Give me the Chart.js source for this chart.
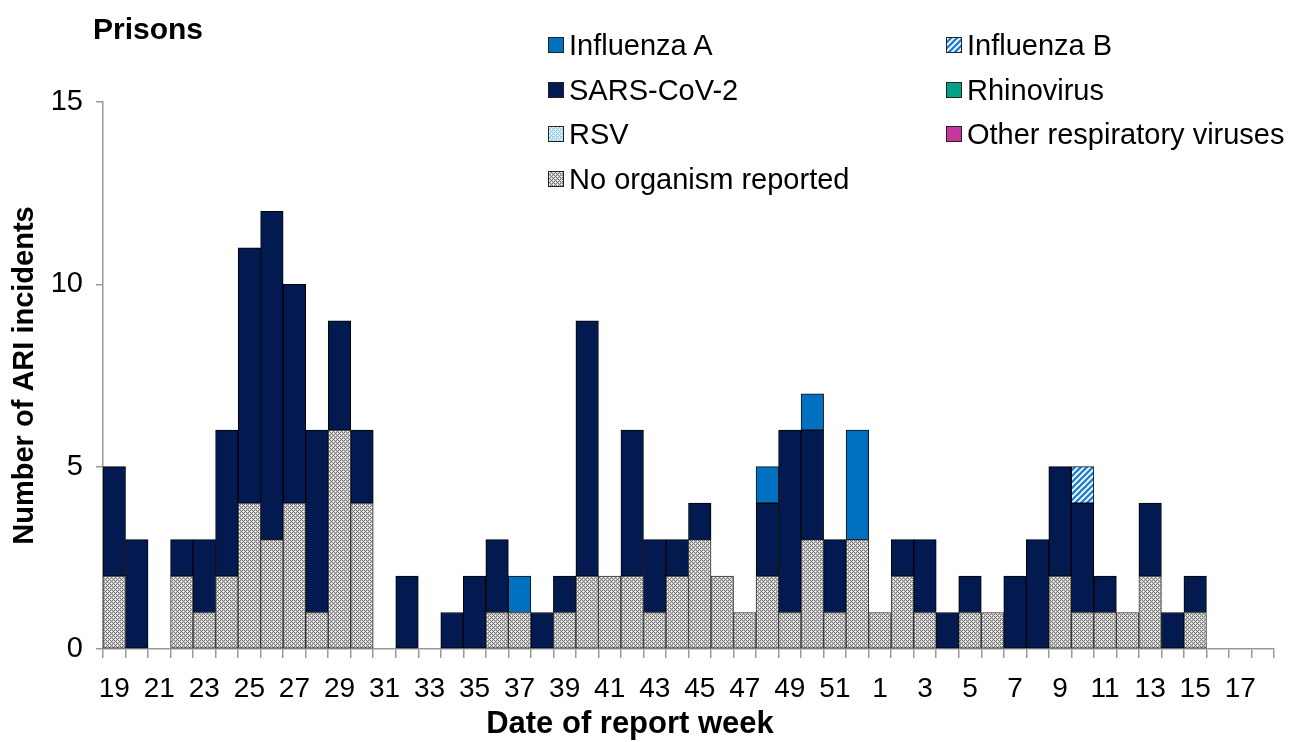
<!DOCTYPE html>
<html>
<head>
<meta charset="utf-8">
<script src="https://cdn.jsdelivr.net/npm/chart.js@4/dist/chart.umd.min.js"></script>
<style>
  html, body { margin: 0; padding: 0; background: #fff; }
  #wrap { position: relative; width: 1292px; height: 742px; font-family: "Liberation Sans", Arial, sans-serif; color: #000; }
  #c { position: absolute; left: 0; top: 0; }
  .txt { position: absolute; white-space: nowrap; }
  .leg { position: absolute; height: 30px; line-height: 30px; font-size: 29px; white-space: nowrap; }
  .leg canvas { position: absolute; left: -21px; top: 7px; }
</style>
</head>
<body>
<div id="wrap">
  <canvas id="c" width="1292" height="742"></canvas>
  <div class="txt" id="title" style="left:93px; top:12px; font-size:30px; font-weight:bold;">Prisons</div>
  <div class="txt" id="xtitle" style="left:0; width:1260px; text-align:center; top:705px; font-size:31px; font-weight:bold;">Date of report week</div>
  <div id="legend"></div>
</div>
<script>
// ---- Data ----
const weeks = ['19','20','21','22','23','24','25','26','27','28','29','30','31','32','33','34','35','36','37','38','39','40','41','42','43','44','45','46','47','48','49','50','51','52','1','2','3','4','5','6','7','8','9','10','11','12','13','14','15','16','17','18'];
const noOrganism = [2,0,0,2,1,2,4,3,4,1,6,4,0,0,0,0,0,1,1,0,1,2,2,2,1,2,3,2,1,2,1,3,1,3,1,2,1,0,1,1,0,0,2,1,1,1,2,0,1,0,0,0];
const sarsCoV2   = [3,3,0,1,2,4,7,9,6,5,3,2,0,2,0,1,2,2,0,1,1,7,0,4,2,1,1,0,0,2,5,3,2,0,0,1,2,1,1,0,2,3,3,3,1,0,2,1,1,0,0,0];
const influenzaA = [0,0,0,0,0,0,0,0,0,0,0,0,0,0,0,0,0,0,1,0,0,0,0,0,0,0,0,0,0,1,0,1,0,3,0,0,0,0,0,0,0,0,0,0,0,0,0,0,0,0,0,0];
const influenzaB = [0,0,0,0,0,0,0,0,0,0,0,0,0,0,0,0,0,0,0,0,0,0,0,0,0,0,0,0,0,0,0,0,0,0,0,0,0,0,0,0,0,0,0,1,0,0,0,0,0,0,0,0];
const rhinovirus = new Array(52).fill(0);
const rsv        = new Array(52).fill(0);
const otherResp  = new Array(52).fill(0);
const yTicks = [0,5,10,15];

// ---- Patterns ----
function tile(w, h, draw) {
  const c = document.createElement('canvas');
  c.width = w; c.height = h;
  const g = c.getContext('2d');
  draw(g, w, h);
  return c;
}
function dotTile(dark, light) {
  return tile(4, 4, (g) => {
    g.fillStyle = '#ffffff'; g.fillRect(0, 0, 4, 4);
    for (let x = 0; x < 4; x++) for (let y = 0; y < 4; y++) {
      if ((x + y) % 4 === 0 || ((x - y + 4) % 4) === 2) { g.fillStyle = dark; g.fillRect(x, y, 1, 1); }
      else if ((x + y) % 2 === 1) { g.fillStyle = light; g.fillRect(x, y, 1, 1); }
    }
  });
}
const noOrgTile = dotTile('#7a7a7a', '#cfcfcf');
const rsvTile = dotTile('#8fcbea', '#cfe8f6');
const fluBTile = tile(6, 6, (g, w, h) => {
  g.fillStyle = '#ffffff'; g.fillRect(0, 0, w, h);
  g.strokeStyle = '#1a7fd4'; g.lineWidth = 2.3;
  for (let k = -1; k <= 1; k++) {
    g.beginPath(); g.moveTo(k * w - 1, h + 1); g.lineTo(k * w + w + 1, -1); g.stroke();
  }
});
const ctx = document.getElementById('c').getContext('2d');
const pNoOrg = ctx.createPattern(noOrgTile, 'repeat');
const pRsv = ctx.createPattern(rsvTile, 'repeat');
const pFluB = ctx.createPattern(fluBTile, 'repeat');

const nz = (arr) => arr.map(v => v === 0 ? null : v);

const series = [
  { label: 'No organism reported', data: noOrganism, bg: pNoOrg, border: '#333', swatch: noOrgTile },
  { label: 'RSV', data: rsv, bg: pRsv, border: '#222', swatch: rsvTile },
  { label: 'Other respiratory viruses', data: otherResp, bg: '#c7359f', border: '#111', swatch: '#c7359f' },
  { label: 'Rhinovirus', data: rhinovirus, bg: '#00a184', border: '#111', swatch: '#00a184' },
  { label: 'SARS-CoV-2', data: sarsCoV2, bg: '#021a4f', border: '#000', swatch: '#021a4f' },
  { label: 'Influenza B', data: influenzaB, bg: pFluB, border: '#111', swatch: fluBTile },
  { label: 'Influenza A', data: influenzaA, bg: '#0070c0', border: '#111', swatch: '#0070c0' }
];

const FONT = '"Liberation Sans", Arial, sans-serif';

new Chart(ctx, {
  type: 'bar',
  data: {
    labels: weeks,
    datasets: series.map(s => ({
      label: s.label,
      data: nz(s.data),
      backgroundColor: s.bg,
      borderColor: s.border,
      borderWidth: 1,
      borderSkipped: false,
      barPercentage: 1.0,
      categoryPercentage: 1.0
    }))
  },
  options: {
    responsive: false,
    animation: false,
    devicePixelRatio: 1,
    layout: { padding: { top: 102, right: 18, left: 0, bottom: 0 } },
    plugins: { legend: { display: false }, tooltip: { enabled: false }, title: { display: false } },
    scales: {
      x: {
        stacked: true,
        offset: true,
        grid: { display: true, offset: true, drawOnChartArea: false, drawTicks: true, tickLength: 9, color: '#999', lineWidth: 1.5 },
        border: { display: true, color: '#999', width: 1.5 },
        ticks: {
          autoSkip: false, maxRotation: 0, minRotation: 0, padding: 14,
          color: '#000', font: { family: FONT, size: 28 },
          callback: function (v, i) { return i % 2 === 0 ? weeks[i] : ''; }
        },
        afterFit: (s) => { s.height = 93; }
      },
      y: {
        stacked: true,
        min: yTicks[0], max: yTicks[yTicks.length - 1],
        afterBuildTicks: (s) => { s.ticks = yTicks.map(v => ({ value: v })); },
        grid: { display: true, drawOnChartArea: false, drawTicks: true, tickLength: 7, color: '#999', lineWidth: 1.5 },
        border: { display: true, color: '#999', width: 1.5 },
        ticks: { padding: 13, color: '#000', font: { family: FONT, size: 29 } },
        title: { display: true, text: 'Number of ARI incidents', color: '#000', padding: { top: 8, bottom: 0 },
                 font: { family: FONT, size: 29, weight: 'bold' } },
        afterFit: (s) => { s.width = 103; }
      }
    }
  }
});

// ---- Legend (HTML, two columns, row-major) ----
const legendOrder = ['Influenza A', 'Influenza B', 'SARS-CoV-2', 'Rhinovirus', 'RSV', 'Other respiratory viruses', 'No organism reported'];
const legEl = document.getElementById('legend');
const colX = [569, 967];
const rowY = [45, 90, 134, 179];
legendOrder.forEach((name, idx) => {
  const s = series.find(z => z.label === name);
  const d = document.createElement('div');
  d.className = 'leg';
  d.style.left = colX[idx % 2] + 'px';
  d.style.top = (rowY[Math.floor(idx / 2)] - 15) + 'px';
  const sw = document.createElement('canvas');
  sw.width = 16; sw.height = 16;
  const g = sw.getContext('2d');
  if (typeof s.swatch === 'string') { g.fillStyle = s.swatch; }
  else { g.fillStyle = g.createPattern(s.swatch, 'repeat'); }
  g.fillRect(0, 0, 16, 16);
  g.strokeStyle = '#222'; g.lineWidth = 1; g.strokeRect(0.5, 0.5, 15, 15);
  d.appendChild(sw);
  d.appendChild(document.createTextNode(name));
  legEl.appendChild(d);
});
</script>
</body>
</html>
